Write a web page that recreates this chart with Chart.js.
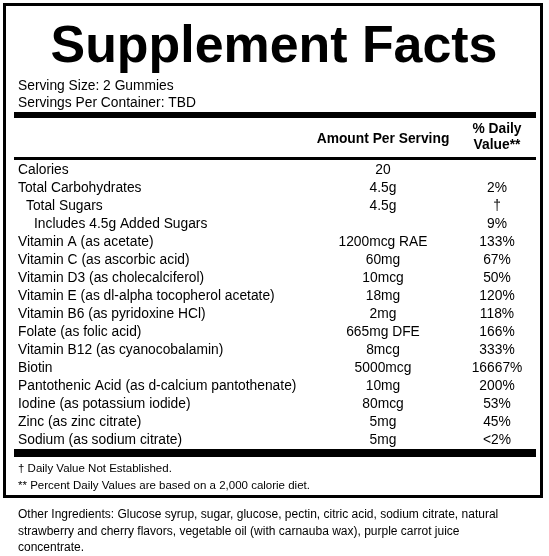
<!DOCTYPE html>
<html>
<head>
<meta charset="utf-8">
<script src="https://cdn.jsdelivr.net/npm/chart.js@4"></script>
<style>
  html, body { margin: 0; padding: 0; background: #fff; }
  #wrap { width: 549px; height: 556px; position: relative; }
</style>
</head>
<body>
<div id="wrap"><canvas id="facts"></canvas></div>
<script>
// label data
const nutrients = ['Calories', 'Total Carbohydrates', 'Total Sugars', 'Includes 4.5g Added Sugars',
  'Vitamin A (as acetate)', 'Vitamin C (as ascorbic acid)', 'Vitamin D3 (as cholecalciferol)',
  'Vitamin E (as dl-alpha tocopherol acetate)', 'Vitamin B6 (as pyridoxine HCl)', 'Folate (as folic acid)',
  'Vitamin B12 (as cyanocobalamin)', 'Biotin', 'Pantothenic Acid (as d-calcium pantothenate)',
  'Iodine (as potassium iodide)', 'Zinc (as zinc citrate)', 'Sodium (as sodium citrate)'];
const indent = [0, 0, 1, 2, 0, 0, 0, 0, 0, 0, 0, 0, 0, 0, 0, 0];
const amounts = ['20', '4.5g', '4.5g', '', '1200mcg RAE', '60mg', '10mcg', '18mg', '2mg', '665mg DFE',
  '8mcg', '5000mcg', '10mg', '80mcg', '5mg', '5mg'];
const dailyValues = ['', '2%', '\u2020', '9%', '133%', '67%', '50%', '120%', '118%', '166%', '333%',
  '16667%', '200%', '53%', '45%', '<2%'];
const servingLines = ['Serving Size: 2 Gummies', 'Servings Per Container: TBD'];
const footnotes = ['\u2020 Daily Value Not Established.', '** Percent Daily Values are based on a 2,000 calorie diet.'];
const ingredients = ['Other Ingredients: Glucose syrup, sugar, glucose, pectin, citric acid, sodium citrate, natural',
  'strawberry and cherry flavors, vegetable oil (with carnauba wax), purple carrot juice',
  'concentrate.'];

const FONT = '"Liberation Sans", Arial, sans-serif';

const labelPlugin = {
  id: 'labelPlugin',
  afterDraw(chart) {
    const ctx = chart.ctx;
    const y = chart.scales.y;
    ctx.save();
    ctx.fillStyle = '#000';
    ctx.strokeStyle = '#000';

    // outer box
    ctx.lineWidth = 3;
    ctx.strokeRect(4.5, 4.5, 537, 492);

    // title, fit to width
    ctx.font = 'bold 50px ' + FONT;
    let w = ctx.measureText('Supplement Facts').width;
    ctx.font = 'bold ' + (50 * 447 / w).toFixed(1) + 'px ' + FONT;
    ctx.textAlign = 'center';
    ctx.textBaseline = 'alphabetic';
    ctx.fillText('Supplement Facts', 274, 62);

    ctx.font = '13.8px ' + FONT;
    ctx.textAlign = 'left';
    ctx.textBaseline = 'middle';
    servingLines.forEach((s, i) => ctx.fillText(s, 18, 86 + i * 17));

    // bars
    ctx.fillRect(14, 112, 522, 6);
    ctx.fillRect(14, 157, 522, 3);
    ctx.fillRect(14, 449, 522, 8);

    ctx.font = 'bold 13.8px ' + FONT;
    ctx.textAlign = 'center';
    ctx.fillText('Amount Per Serving', 383, 139);
    ctx.fillText('% Daily', 497, 129);
    ctx.fillText('Value**', 497, 145);

    ctx.font = '13.8px ' + FONT;
    nutrients.forEach((n, i) => {
      const py = y.getPixelForValue(i);
      ctx.textAlign = 'left';
      ctx.fillText(n, 18 + indent[i] * 8, py);
      ctx.textAlign = 'center';
      ctx.fillText(amounts[i], 383, py);
      ctx.fillText(dailyValues[i], 497, py);
    });

    ctx.font = '11.5px ' + FONT;
    ctx.textAlign = 'left';
    footnotes.forEach((f, i) => ctx.fillText(f, 18, 469 + i * 17));

    ctx.font = '12px ' + FONT;
    ingredients.forEach((s, i) => ctx.fillText(s, 18, 515 + i * 16.5));
    ctx.restore();
  }
};

new Chart(document.getElementById('facts'), {
  type: 'scatter',
  data: { labels: nutrients, datasets: [] },
  options: {
    responsive: true,
    maintainAspectRatio: false,
    animation: false,
    layout: { padding: { top: 161, bottom: 107, left: 0, right: 0 } },
    plugins: { legend: { display: false }, tooltip: { enabled: false } },
    scales: {
      x: { type: 'linear', min: 0, max: 549, display: false },
      y: { type: 'category', labels: nutrients, offset: true, display: false }
    }
  },
  plugins: [labelPlugin]
});
</script>
</body>
</html>
